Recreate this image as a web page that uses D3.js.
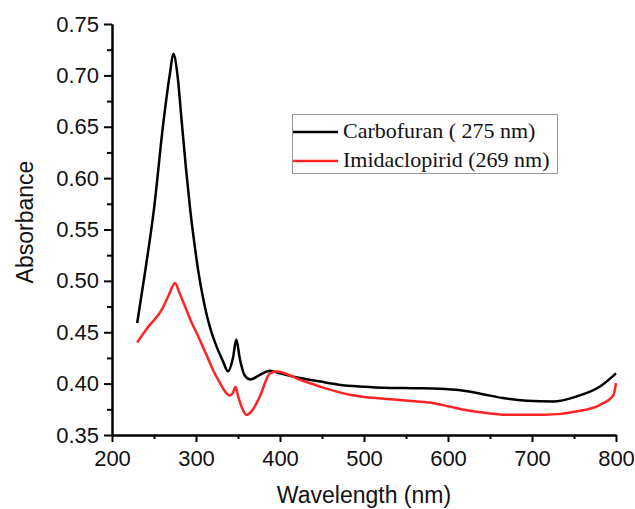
<!DOCTYPE html>
<html>
<head>
<meta charset="utf-8">
<script src="https://cdn.jsdelivr.net/npm/d3@7"></script>
<style>
  body { margin: 0; background: #fff; }
  .axis text { font-family: "Liberation Sans", Arial, sans-serif; font-size: 22px; fill: #111; }
  .axis path, .axis line { stroke: #000; stroke-width: 2; }
  .title { font-family: "Liberation Sans", Arial, sans-serif; font-size: 23px; fill: #111; }
  .legend text { font-family: "Liberation Serif", "Times New Roman", serif; font-size: 22px; fill: #111; }
</style>
</head>
<body>
<svg id="chart" width="635" height="509"></svg>
<script>
// Carbofuran spectrum (black)
var carboNm  = [230, 240, 250, 261, 269, 273, 278, 283, 288, 293, 298, 303, 308, 313, 318, 325, 332, 338, 344, 348, 352, 358, 365, 375, 388, 400, 424, 448, 470, 500, 523, 560, 590, 615, 640, 665, 694, 725, 753, 781, 800];
var carboAbs = [0.459, 0.512, 0.570, 0.653, 0.702, 0.721, 0.700, 0.655, 0.610, 0.570, 0.537, 0.508, 0.485, 0.466, 0.451, 0.435, 0.422, 0.412, 0.425, 0.443, 0.425, 0.408, 0.404, 0.408, 0.4125, 0.410, 0.4055, 0.402, 0.399, 0.397, 0.396, 0.3955, 0.395, 0.3935, 0.390, 0.386, 0.3833, 0.3826, 0.3875, 0.3972, 0.410];

// Imidaclopirid spectrum (red)
var imidaNm  = [230, 243, 260, 268, 275, 280, 285, 290, 295, 301, 307, 313, 321, 329, 335, 340, 344, 347, 350, 355, 360, 366, 376, 388, 396, 424, 448, 483, 500, 520, 560, 583, 600, 626, 650, 674, 714, 753, 781, 797, 800];
var imidaAbs = [0.440, 0.455, 0.473, 0.487, 0.498, 0.489, 0.479, 0.469, 0.459, 0.449, 0.438, 0.427, 0.412, 0.400, 0.392, 0.3884, 0.391, 0.397, 0.388, 0.376, 0.3696, 0.373, 0.3875, 0.410, 0.4118, 0.4037, 0.397, 0.3891, 0.387, 0.3855, 0.3828, 0.381, 0.378, 0.3735, 0.371, 0.3696, 0.3696, 0.3729, 0.3794, 0.389, 0.4005];

var xTicks = [200, 300, 400, 500, 600, 700, 800];
var yTicks = [0.35, 0.40, 0.45, 0.50, 0.55, 0.60, 0.65, 0.70, 0.75];
var seriesNames = ["Carbofuran ( 275 nm)", "Imidaclopirid (269 nm)"];
var seriesColors = ["#000000", "#ff2424"];

var svg = d3.select("#chart");

var x = d3.scaleLinear().domain([200, 800]).range([112, 616]);
var y = d3.scaleLinear().domain([0.35, 0.75]).range([435, 24]);

// minor ticks
svg.append("g")
    .attr("class", "axis")
    .attr("transform", "translate(0,435)")
    .call(d3.axisBottom(x).tickValues(d3.range(250, 800, 100)).tickSize(4).tickSizeOuter(0).tickFormat(""));
svg.append("g")
    .attr("class", "axis")
    .attr("transform", "translate(112,0)")
    .call(d3.axisLeft(y).tickValues(d3.range(0.375, 0.75, 0.05)).tickSize(5).tickSizeOuter(0).tickFormat(""));

// major axes
svg.append("g")
    .attr("class", "axis")
    .attr("transform", "translate(0,435)")
    .call(d3.axisBottom(x).tickValues(xTicks).tickSize(7).tickSizeOuter(0).tickPadding(8));
svg.append("g")
    .attr("class", "axis")
    .attr("transform", "translate(112,0)")
    .call(d3.axisLeft(y).tickValues(yTicks).tickSize(8).tickSizeOuter(0).tickPadding(5).tickFormat(d3.format(".2f")));

svg.append("text")
    .attr("class", "title")
    .attr("x", 364)
    .attr("y", 503)
    .attr("text-anchor", "middle")
    .text("Wavelength (nm)");

svg.append("text")
    .attr("class", "title")
    .attr("transform", "translate(33,222) rotate(-90)")
    .attr("text-anchor", "middle")
    .text("Absorbance");

var line = d3.line()
    .x(function (d) { return x(d[0]); })
    .y(function (d) { return y(d[1]); })
    .curve(d3.curveMonotoneX);

var series = [d3.zip(carboNm, carboAbs), d3.zip(imidaNm, imidaAbs)];

svg.append("g").selectAll("path")
    .data(series)
  .enter().append("path")
    .attr("d", line)
    .attr("fill", "none")
    .attr("stroke", function (d, i) { return seriesColors[i]; })
    .attr("stroke-width", 2.5)
    .attr("stroke-linejoin", "round");

// legend
var legend = svg.append("g").attr("class", "legend");
legend.append("rect")
    .attr("x", 292.5)
    .attr("y", 114.5)
    .attr("width", 265)
    .attr("height", 59)
    .attr("fill", "#fff")
    .attr("stroke", "#999")
    .attr("stroke-width", 1);

var rows = legend.selectAll(".row")
    .data(seriesNames)
  .enter().append("g")
    .attr("class", "row")
    .attr("transform", function (d, i) { return "translate(0," + (132 + i * 29) + ")"; });
rows.append("line")
    .attr("x1", 293).attr("x2", 338)
    .attr("stroke", function (d, i) { return seriesColors[i]; })
    .attr("stroke-width", 2.5);
rows.append("text")
    .attr("x", 343)
    .attr("y", 6)
    .text(function (d) { return d; });
</script>
</body>
</html>
